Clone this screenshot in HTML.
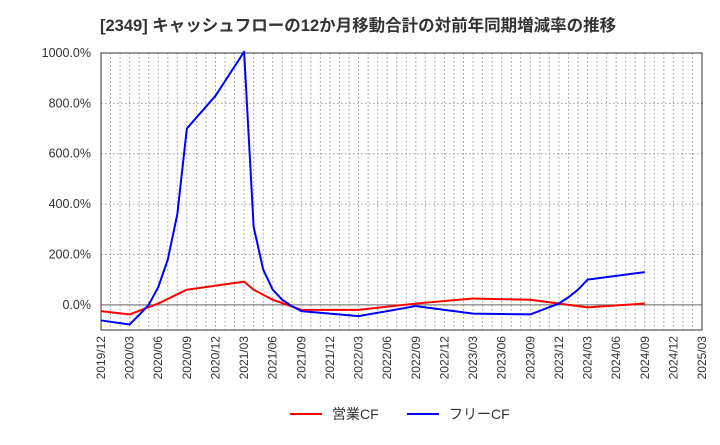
<!DOCTYPE html>
<html><head><meta charset="utf-8"><style>
body{margin:0;background:#fff;font-family:"Liberation Sans","Noto Sans CJK JP",sans-serif}
</style></head><body>
<svg width="720" height="440" id="c" xmlns="http://www.w3.org/2000/svg">
<text x="100" y="31" font-size="16.5" font-weight="bold" fill="#333" font-family="Liberation Sans, Noto Sans CJK JP, sans-serif">[2349]  キャッシュフローの12か月移動合計の対前年同期増減率の推移</text>
<g id="grid"></g><g id="axes"></g><g id="series"></g>
<g>
<line x1="290" y1="414" x2="322" y2="414" stroke="#f00" stroke-width="2"/>
<text x="332" y="419" font-size="14" fill="#333">営業CF</text>
<line x1="407" y1="414" x2="439" y2="414" stroke="#00f" stroke-width="2"/>
<text x="449" y="419" font-size="14" fill="#333">フリーCF</text>
</g>
</svg>
<script>
const yTicks=[-100,0,200,400,600,800,1000];
const xTickLabels=["2019/12","2020/03","2020/06","2020/09","2020/12","2021/03","2021/06","2021/09","2021/12","2022/03","2022/06","2022/09","2022/12","2023/03","2023/06","2023/09","2023/12","2024/03","2024/06","2024/09","2024/12","2025/03"];
const opMonths=[0,3,6,9,15,16,18,21,27,33,39,45,51,57];
const opValues=[-25,-38,5,60,92,60,20,-20,-20,5,25,20,-10,5];
const fcfMonths=[0,3,4,5,6,7,8,9,12,15,16,17,18,19,20,21,27,33,39,45,48,49,50,51,57];
const fcfValues=[-62,-78,-40,0,70,180,360,700,830,1005,310,140,60,20,-5,-25,-45,-5,-35,-38,5,30,60,100,130];
const L=101,R=702,T=53,B=330,NM=63;
const X=m=>L+(R-L)*m/NM;
const Y=v=>B-(B-T)*(v+100)/1100;
const ns="http://www.w3.org/2000/svg";
function mk(tag,attrs,parent){const e=document.createElementNS(ns,tag);for(const k in attrs)e.setAttribute(k,attrs[k]);document.getElementById(parent).appendChild(e);return e;}
for(let m=1;m<NM;m++){const l=mk('line',{x1:X(m),x2:X(m),y1:T,y2:B,stroke:'#999','stroke-dasharray':'1.5,2.5','stroke-width':1},'grid');

}
yTicks.forEach(v=>{if(v===-100)return;const l=mk('line',{x1:L,x2:R,y1:Y(v),y2:Y(v),stroke:v===0?'#666':'#999','stroke-dasharray':v===0?'':'1.5,2.5','stroke-width':1},'grid');


const t=mk('text',{x:L-10,y:Y(v)+4,'text-anchor':'end','font-size':12.5,fill:'#333'},'axes');t.textContent=v.toFixed(1)+'%';

});
const fr=mk('rect',{x:L,y:T,width:R-L,height:B-T,fill:'none',stroke:'#333','stroke-width':1},'axes');


xTickLabels.forEach((s,i)=>{const x=X(i*3);const t=mk('text',{x:x+4,y:B+6,'text-anchor':'end','font-size':12,fill:'#333',transform:`rotate(-90 ${x+4} ${B+6})`},'axes');t.textContent=s;

});
function line(ms,vs,col,name){const p=mk('polyline',{points:ms.map((m,i)=>X(m)+','+Y(vs[i])).join(' '),fill:'none',stroke:col,'stroke-width':2,'stroke-linejoin':'round'},'series');

}
line(opMonths,opValues,'#f00','operating-cf-line');
line(fcfMonths,fcfValues,'#00f','free-cf-line');
</script>
</body></html>
